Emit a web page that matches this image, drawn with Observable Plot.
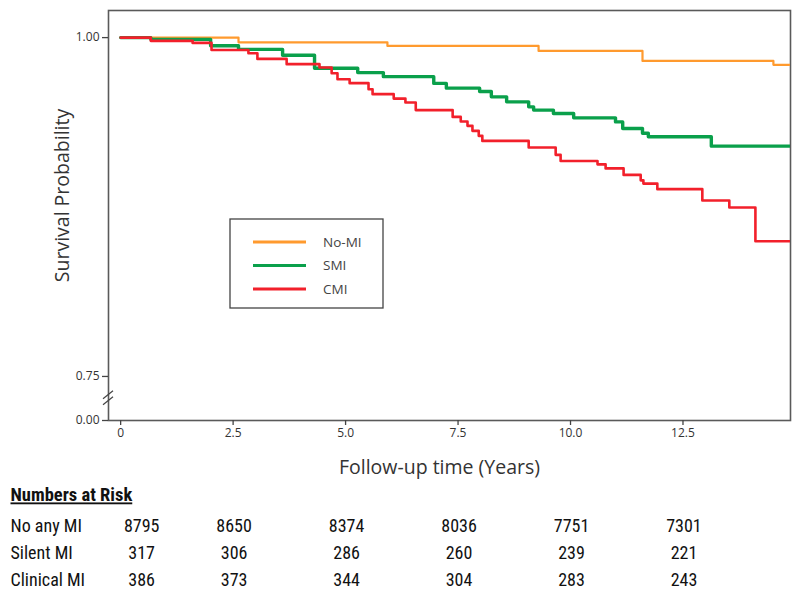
<!DOCTYPE html>
<html>
<head>
<meta charset="utf-8">
<script src="https://cdn.jsdelivr.net/npm/d3@7"></script>
<script src="https://cdn.jsdelivr.net/npm/@observablehq/plot@0.6"></script>
<style>
  body { margin: 0; background: #fff; }
  #chart svg { display: block; }
</style>
</head>
<body>
<div id="chart"></div>
<script>
// ---------- data ----------
const seriesNames = ["No-MI", "SMI", "CMI"];
const seriesColors = ["#FF9A2E", "#0AA04B", "#F2202B"];

const noMiTime = [0, 2.62, 5.93, 9.29, 11.6, 14.51, 14.9];
const noMiSurv = [1, 0.9965, 0.9939, 0.9902, 0.9828, 0.9799, 0.9799];

const smiTime = [0, 0.67, 2.0, 2.62, 3.6, 4.31, 5.27, 5.84, 6.96, 7.24, 7.98, 8.24, 8.58, 9.07, 9.18, 9.62, 10.07, 11.0, 11.16, 11.6, 11.73, 13.13, 14.9];
const smiSurv = [1, 0.9987, 0.9940, 0.9913, 0.9870, 0.9774, 0.9742, 0.9712, 0.9662, 0.9627, 0.9602, 0.9563, 0.9526, 0.9489, 0.9465, 0.9440, 0.9408, 0.9378, 0.9329, 0.9294, 0.9268, 0.9199, 0.9199];

const cmiTime = [0, 0.67, 1.6, 2.02, 2.84, 3.04, 3.69, 4.42, 4.69, 4.82, 5.09, 5.51, 5.6, 6.07, 6.33, 6.56, 7.38, 7.56, 7.71, 7.82, 7.96, 8.04, 9.07, 9.67, 9.78, 10.6, 10.78, 11.18, 11.56, 11.62, 11.93, 12.93, 13.53, 14.11, 14.9];
const cmiSurv = [1, 0.9976, 0.9961, 0.9909, 0.9885, 0.9843, 0.9804, 0.9779, 0.9737, 0.9693, 0.9664, 0.9619, 0.9583, 0.9550, 0.9521, 0.9465, 0.9415, 0.9381, 0.9349, 0.9312, 0.9275, 0.9238, 0.9189, 0.9135, 0.9090, 0.9065, 0.9035, 0.8987, 0.8947, 0.8923, 0.8882, 0.8798, 0.8746, 0.8497, 0.8497];

const xTickValues = [0, 2.5, 5, 7.5, 10, 12.5];
const xTickLabels = ["0", "2.5", "5.0", "7.5", "10.0", "12.5"];
// bottom of the (broken) y axis stands for 0.00
const yTickValues = [0.7175, 0.75, 1.0];
const yTickLabels = ["0.00", "0.75", "1.00"];
const yBreakValue = 0.734;

const riskGroups = ["No any MI", "Silent MI", "Clinical MI"];
const riskTimes = [0, 2.5, 5, 7.5, 10, 12.5];
const riskNoMi = [8795, 8650, 8374, 8036, 7751, 7301];
const riskSilent = [317, 306, 286, 260, 239, 221];
const riskClinical = [386, 373, 344, 304, 283, 243];

// ---------- build ----------
const curves = [
  {name: seriesNames[0], time: noMiTime, surv: noMiSurv, width: 2.2},
  {name: seriesNames[1], time: smiTime, surv: smiSurv, width: 3.4},
  {name: seriesNames[2], time: cmiTime, surv: cmiSurv, width: 2.6}
];
const curveRows = curves.map(c => c.time.map((t, i) => ({group: c.name, t, s: c.surv[i]})));
const riskRows = [riskNoMi, riskSilent, riskClinical];

const titleFont = "'Open Sans', 'DejaVu Sans', sans-serif";
const tableFont = "'Liberation Sans Narrow', 'Arial Narrow', 'Roboto Condensed', 'Liberation Sans', Arial, sans-serif";

const color = {domain: seriesNames, range: seriesColors};

// legend (function mark)
function legendMark(index, scales, values, dims) {
  const g = d3.create("svg:g");
  const x0 = dims.marginLeft + 122, y0 = dims.marginTop + 209;
  g.append("rect").attr("x", x0).attr("y", y0).attr("width", 153).attr("height", 89)
    .attr("fill", "#fff").attr("stroke", "#444").attr("stroke-width", 1.3);
  curves.forEach((c, i) => {
    const y = y0 + 23 + i * 23.5;
    g.append("line").attr("x1", x0 + 23).attr("x2", x0 + 76).attr("y1", y).attr("y2", y)
      .attr("stroke", scales.color(c.name)).attr("stroke-width", 3);
    g.append("text").attr("x", x0 + 93).attr("y", y).attr("dy", "0.35em")
      .attr("text-anchor", "start")
      .attr("font-family", titleFont).attr("font-size", 13.5).attr("fill", "#444").text(c.name);
  });
  return g.node();
}

// axis break marks (function mark)
function breakMark(index, scales, values, dims) {
  const g = d3.create("svg:g").attr("stroke", "#444").attr("stroke-width", 1.3);
  const x = dims.marginLeft, y = scales.y(yBreakValue);
  [-3, 3].forEach(off => {
    g.append("line").attr("x1", x - 5).attr("y1", y + off + 4).attr("x2", x + 5).attr("y2", y + off - 4);
  });
  return g.node();
}

const marks = [
  Plot.frame({stroke: "#5a5a5a", strokeWidth: 1.6}),
  Plot.axisX({ticks: xTickValues, tickFormat: (d) => xTickLabels[xTickValues.indexOf(d)], tickSize: 5, tickPadding: 3, label: null, fontSize: 12, fill: "#333", stroke: "#444", strokeWidth: 1.3}),
  Plot.axisY({ticks: yTickValues, tickFormat: (d) => yTickLabels[yTickValues.indexOf(d)], tickSize: 6, tickPadding: 3, label: null, fontSize: 12, fill: "#333", stroke: "#444", strokeWidth: 1.3}),
  breakMark,
  ...curves.map((c, i) => Plot.line(curveRows[i], {x: "t", y: "s", stroke: "group", strokeWidth: c.width, curve: "step-after", clip: true})),
  legendMark,
  Plot.text(["Survival Probability"], {frameAnchor: "left", dx: -46, dy: -20, rotate: -90, textAnchor: "middle", lineAnchor: "middle", fontSize: 19.5, fill: "#333", fontFamily: titleFont}),
  Plot.text(["Follow-up time (Years)"], {frameAnchor: "bottom", dx: -10, dy: 47, textAnchor: "middle", lineAnchor: "middle", fontSize: 19.5, fill: "#333", fontFamily: titleFont}),
  Plot.text(["Numbers at Risk"], {frameAnchor: "bottom-left", dx: -98, dy: 75, textAnchor: "start", lineAnchor: "middle", fontSize: 18.5, fontWeight: "bold", fill: "#111", fontFamily: tableFont})
];

riskGroups.forEach((g, r) => {
  const dy = 106 + r * 27;
  marks.push(Plot.text([g], {frameAnchor: "bottom-left", dx: -98, dy, textAnchor: "start", lineAnchor: "middle", fontSize: 18, fill: "#111", fontFamily: tableFont}));
  const rows = riskTimes.map((t, i) => ({t, n: String(riskRows[r][i])}));
  marks.push(Plot.text(rows.slice(0, 1), {x: "t", text: "n", frameAnchor: "bottom", dx: 21, dy, textAnchor: "middle", lineAnchor: "middle", fontSize: 18, fill: "#111", fontFamily: tableFont}));
  marks.push(Plot.text(rows.slice(1), {x: "t", text: "n", frameAnchor: "bottom", dx: 1, dy, textAnchor: "middle", lineAnchor: "middle", fontSize: 18, fill: "#111", fontFamily: tableFont}));
});

const chart = Plot.plot({
  width: 800,
  height: 594,
  marginLeft: 108,
  marginRight: 10,
  marginTop: 10,
  marginBottom: 174,
  style: {fontFamily: "'Liberation Sans Narrow', 'Open Sans', sans-serif", background: "#fff", overflow: "visible"},
  x: {domain: [-0.27, 14.89]},
  y: {domain: [0.7175, 1.02]},
  color,
  marks
});

d3.select(chart).selectAll("text").filter(function () { return this.textContent === "Numbers at Risk"; })
  .style("text-decoration", "underline");

document.getElementById("chart").appendChild(chart);
</script>
</body>
</html>
